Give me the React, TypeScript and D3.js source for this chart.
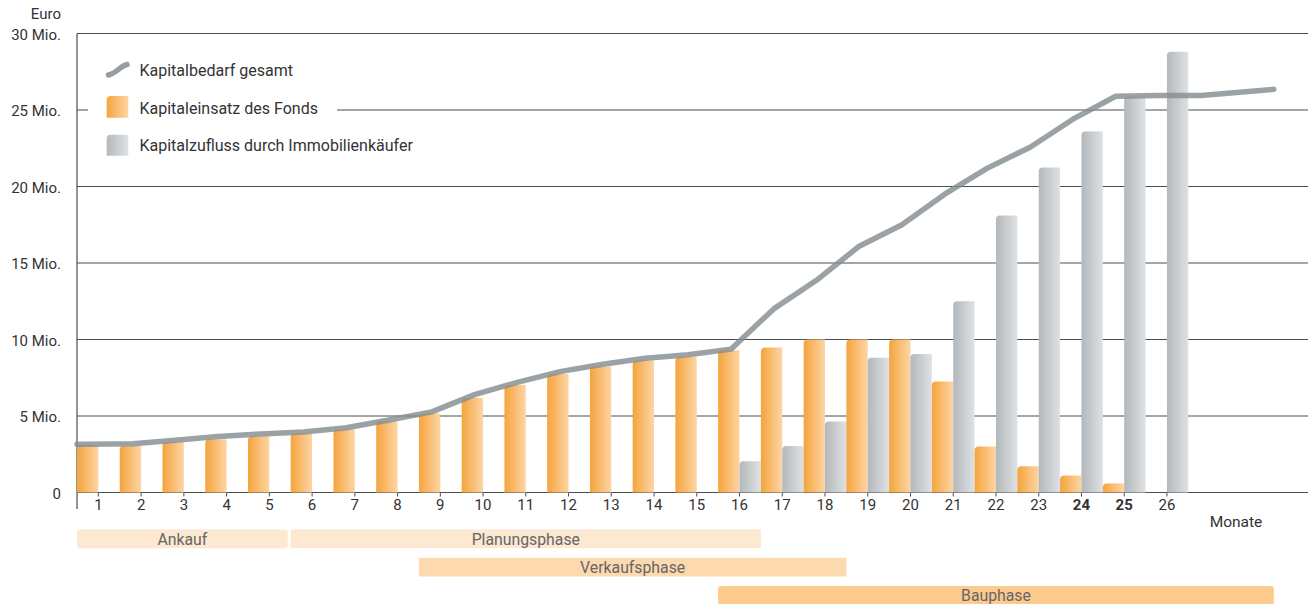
import React from "react";
import * as d3 from "d3";

// Months on the x axis
const months: number[] = [1, 2, 3, 4, 5, 6, 7, 8, 9, 10, 11, 12, 13, 14, 15, 16, 17, 18, 19, 20, 21, 22, 23, 24, 25, 26];
const boldMonths: number[] = [24, 25];

// Kapitaleinsatz des Fonds (Mio. Euro) per month
const fundInput: number[] = [3.1, 3.05, 3.3, 3.48, 3.68, 3.87, 4.11, 4.66, 5.16, 6.2, 7.03, 7.75, 8.23, 8.62, 8.86, 9.29, 9.47, 10.0, 10.0, 10.0, 7.25, 3.0, 1.72, 1.11, 0.59, 0];

// Kapitalzufluss durch Immobilienkäufer (Mio. Euro) per month
const buyerInflow: number[] = [0, 0, 0, 0, 0, 0, 0, 0, 0, 0, 0, 0, 0, 0, 0, 2.04, 3.04, 4.64, 8.8, 9.05, 12.5, 18.1, 21.25, 23.6, 25.9, 28.8];

// Kapitalbedarf gesamt: positions on the month axis and values (Mio. Euro)
const needMonths: number[] = [0.5, 0.8, 1.8, 2.8, 3.8, 4.8, 5.8, 6.8, 7.8, 8.8, 9.8, 10.8, 11.8, 12.8, 13.8, 14.8, 15.8, 16.8, 17.8, 18.8, 19.8, 20.8, 21.8, 22.8, 23.8, 24.8, 25.8, 26.8, 28.5];
const needValues: number[] = [3.15, 3.15, 3.19, 3.42, 3.66, 3.83, 3.96, 4.23, 4.74, 5.27, 6.4, 7.2, 7.9, 8.38, 8.77, 9.0, 9.37, 12.0, 13.87, 16.1, 17.5, 19.5, 21.2, 22.57, 24.4, 25.9, 25.95, 25.95, 26.35];

// Y axis ticks
const yTicks: number[] = [0, 5, 10, 15, 20, 25, 30];
const yTickLabels: string[] = ["0", "5 Mio.", "10 Mio.", "15 Mio.", "20 Mio.", "25 Mio.", "30 Mio."];

// Project phases (start / end on the month axis, row)
const phaseNames: string[] = ["Ankauf", "Planungsphase", "Verkaufsphase", "Bauphase"];
const phaseStarts: number[] = [0.5, 5.5, 8.5, 15.5];
const phaseEnds: number[] = [5.43, 16.5, 18.5, 28.5];
const phaseRows: number[] = [0, 0, 1, 2];
const phaseColors: string[] = ["#fde8d1", "#fde8d1", "#fcd9ae", "#fdca8d"];

const legendLabels: string[] = ["Kapitalbedarf gesamt", "Kapitaleinsatz des Fonds", "Kapitalzufluss durch Immobilienkäufer"];

const W = 1314;
const H = 604;
const FONT = "Roboto, 'DejaVu Sans', sans-serif";

function barPath(x0: number, x1: number, yTop: number, yBase: number, r: number): string {
  const h = yBase - yTop;
  if (h <= 0) return "";
  const rr = Math.min(r, h, (x1 - x0) / 2);
  return `M${x0},${yBase}V${yTop + rr}Q${x0},${yTop} ${x0 + rr},${yTop}H${x1}V${yBase}Z`;
}

export default function App() {
  const x = d3.scaleLinear().domain([0.5, 29.3]).range([77, 1308]);
  const y = d3.scaleLinear().domain([0, 30]).range([492.5, 33.5]);

  const line = d3
    .line<number>()
    .x((_, i) => x(needMonths[i]))
    .y((d) => y(d));

  const phaseY = (row: number) => 529.5 + row * 28.3;
  const phaseH = 18.7;

  return (
    <svg width={W} height={H} style={{ position: "absolute", left: 0, top: 0, fontFamily: FONT }}>
      <defs>
        <linearGradient id="gOrange" x1="0" x2="1" y1="0" y2="0">
          <stop offset="0" stopColor="#f5a43d" />
          <stop offset="1" stopColor="#fdd5a5" />
        </linearGradient>
        <linearGradient id="gGray" x1="0" x2="1" y1="0" y2="0">
          <stop offset="0" stopColor="#b3b8bc" />
          <stop offset="1" stopColor="#dfe2e4" />
        </linearGradient>
      </defs>
      <rect width={W} height={H} fill="#ffffff" />

      {/* horizontal grid */}
      {yTicks.map((t) => (
        <line key={"g" + t} x1={x(0.5)} x2={x(29.3)} y1={y(t)} y2={y(t)} stroke="#4d4d4d" strokeWidth={1.1} />
      ))}
      {/* y axis */}
      <line x1={x(0.5)} x2={x(0.5)} y1={y(30)} y2={509} stroke="#4d4d4d" strokeWidth={1.2} />

      {/* y labels */}
      <text x={61} y={19} textAnchor="end" fontSize={15} fill="#333">Euro</text>
      {yTicks.map((t, i) => (
        <text key={"yl" + t} x={61} y={y(t) + 6.3} textAnchor="end" fontSize={15} fill="#333">
          {yTickLabels[i]}
        </text>
      ))}

      {/* month ticks and labels */}
      {months.map((m) => (
        <g key={"m" + m}>
          <line x1={x(m)} x2={x(m)} y1={y(0)} y2={y(0) + 4} stroke="#4d4d4d" strokeWidth={1} />
          <text
            x={x(m)}
            y={510}
            textAnchor="middle"
            fontSize={15}
            fill="#333"
            fontWeight={boldMonths.includes(m) ? 700 : 400}
          >
            {m}
          </text>
        </g>
      ))}
      <text x={1236} y={527} textAnchor="middle" fontSize={15.5} fill="#333">Monate</text>

      {/* legend */}
      <rect x={88} y={50} width={249} height={112} fill="#ffffff" />
      <path d="M108.5,75 C113,74 116,71.5 119,69 S124.5,65 127,64.5" fill="none" stroke="#969ea1" strokeWidth={5.5} strokeLinecap="round" />
      <path d={barPath(106.7, 128.3, 96, 117.7, 4)} fill="url(#gOrange)" />
      <path d={barPath(106.7, 128.3, 134.7, 155.7, 4)} fill="url(#gGray)" />
      {legendLabels.map((l, i) => (
        <text key={l} x={139.5} y={76 + i * 37.5} fontSize={16} fill="#333">
          {l}
        </text>
      ))}

      {/* bars */}
      {months.map((m, i) => (
        <g key={"b" + m}>
          <path d={barPath(x(m - 0.5), x(m), y(fundInput[i]), y(0), 4)} fill="url(#gOrange)" />
          <path d={barPath(x(m), x(m + 0.5), y(buyerInflow[i]), y(0), 4)} fill="url(#gGray)" />
        </g>
      ))}

      {/* total capital requirement */}
      <path
        d={line(needValues) || ""}
        fill="none"
        stroke="#858e92"
        strokeOpacity={0.82}
        strokeWidth={5.5}
        strokeLinecap="round"
        strokeLinejoin="round"
      />

      {/* phases */}
      {phaseNames.map((p, i) => {
        const x0 = x(phaseStarts[i]);
        const x1 = x(phaseEnds[i]);
        const yy = phaseY(phaseRows[i]);
        return (
          <g key={p}>
            <rect x={x0} y={yy} width={x1 - x0} height={phaseH} rx={i === 0 || i === 3 ? 3 : 0} fill={phaseColors[i]} />
            <text x={(x0 + x1) / 2} y={yy + 15.3} textAnchor="middle" fontSize={15.8} fill="#666">
              {p}
            </text>
          </g>
        );
      })}
    </svg>
  );
}
